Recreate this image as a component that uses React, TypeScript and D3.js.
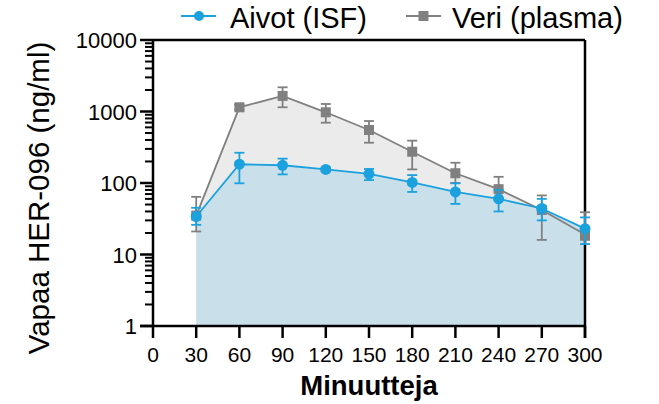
import React, { useEffect, useRef } from 'react';
import * as d3 from 'd3';

// minutes after dosing
const minutes = [30, 60, 90, 120, 150, 180, 210, 240, 270, 300];

// Aivot (ISF)
const aivot = [34, 183, 177, 155, 134, 102, 75, 60, 44, 23];
const aivotLo = [26, 99, 132, 145, 110, 75, 51, 40, 30, 14];
const aivotHi = [45, 265, 219, 166, 157, 129, 99, 80, 60, 33];

// Veri (plasma)
const veri = [35, 1145, 1650, 975, 551, 274, 137, 82, 42, 19];
const veriLo = [21, 1060, 1145, 697, 366, 155, 100, 58, 16, 16];
const veriHi = [64, 1240, 2180, 1274, 736, 391, 192, 122, 67, 39];

const xTicks = [0, 30, 60, 90, 120, 150, 180, 210, 240, 270, 300];
const yTicks = [1, 10, 100, 1000, 10000];

const BLUE = '#1ba1dd';
const GRAY = '#808080';
const FONT = '"Liberation Sans", Arial, sans-serif';

function App() {
  const svgRef = useRef(null);

  useEffect(() => {
    const svg = d3.select(svgRef.current);
    svg.selectAll('*').remove();

    const left = 153, right = 585, top = 40, bottom = 326;

    const x = d3.scaleLinear().domain([0, 300]).range([left, right]);
    const y = d3.scaleLog().domain([1, 10000]).range([bottom, top]);

    const rows = minutes.map((m, i) => ({
      m,
      a: aivot[i], aLo: aivotLo[i], aHi: aivotHi[i],
      v: veri[i], vLo: veriLo[i], vHi: veriHi[i],
    }));

    // filled areas down to 1
    const areaV = d3.area().x((d) => x(d.m)).y0(y(1)).y1((d) => y(d.v));
    const areaA = d3.area().x((d) => x(d.m)).y0(y(1)).y1((d) => y(d.a));
    svg.append('path').datum(rows).attr('d', areaV).attr('fill', '#ebebeb');
    svg.append('path').datum(rows).attr('d', areaA).attr('fill', '#c9e0ea');

    // axes
    const ax = svg.append('g').attr('stroke', '#000').attr('stroke-width', 2.5).attr('fill', 'none');
    ax.append('line').attr('x1', left).attr('x2', left).attr('y1', top).attr('y2', bottom);
    ax.append('line').attr('x1', left - 13).attr('x2', right).attr('y1', bottom).attr('y2', bottom);
    ax.append('line').attr('x1', left).attr('x2', right).attr('y1', top).attr('y2', top);
    ax.append('line').attr('x1', right).attr('x2', right).attr('y1', top).attr('y2', bottom + 12);

    xTicks.forEach((t) => {
      ax.append('line').attr('x1', x(t)).attr('x2', x(t)).attr('y1', bottom).attr('y2', bottom + 12);
    });
    yTicks.forEach((t) => {
      ax.append('line').attr('x1', left - 13).attr('x2', left).attr('y1', y(t)).attr('y2', y(t));
    });
    // minor ticks
    yTicks.slice(0, -1).forEach((t) => {
      d3.range(2, 10).forEach((k) => {
        ax.append('line')
          .attr('x1', left - 8).attr('x2', left)
          .attr('y1', y(t * k)).attr('y2', y(t * k))
          .attr('stroke-width', 2);
      });
    });

    svg.append('g').selectAll('text').data(xTicks).enter().append('text')
      .attr('x', (d) => x(d)).attr('y', 362)
      .attr('text-anchor', 'middle')
      .attr('font-family', FONT).attr('font-size', 21)
      .text((d) => d);

    svg.append('g').selectAll('text').data(yTicks).enter().append('text')
      .attr('x', 137).attr('y', (d) => y(d) + 8)
      .attr('text-anchor', 'end')
      .attr('font-family', FONT).attr('font-size', 22)
      .text((d) => d);

    svg.append('text')
      .attr('x', (left + right) / 2).attr('y', 395)
      .attr('text-anchor', 'middle')
      .attr('font-family', FONT).attr('font-size', 27.5).attr('font-weight', 'bold')
      .text('Minuutteja');

    svg.append('text')
      .attr('transform', 'translate(49,198) rotate(-90)')
      .attr('text-anchor', 'middle')
      .attr('font-family', FONT).attr('font-size', 29.5)
      .text('Vapaa HER-096 (ng/ml)');

    const drawSeries = (key, lo, hi, color, shape) => {
      const line = d3.line().x((d) => x(d.m)).y((d) => y(d[key]));
      svg.append('path').datum(rows).attr('d', line)
        .attr('fill', 'none').attr('stroke', color).attr('stroke-width', 1.8);

      const err = svg.append('g').attr('stroke', color).attr('stroke-width', 1.8);
      rows.forEach((d) => {
        const cx = x(d.m);
        err.append('line').attr('x1', cx).attr('x2', cx).attr('y1', y(d[lo])).attr('y2', y(d[hi]));
        err.append('line').attr('x1', cx - 5).attr('x2', cx + 5).attr('y1', y(d[lo])).attr('y2', y(d[lo]));
        err.append('line').attr('x1', cx - 5).attr('x2', cx + 5).attr('y1', y(d[hi])).attr('y2', y(d[hi]));
      });

      if (shape === 'circle') {
        svg.append('g').selectAll('circle').data(rows).enter().append('circle')
          .attr('cx', (d) => x(d.m)).attr('cy', (d) => y(d[key])).attr('r', 5.5)
          .attr('fill', color);
      } else {
        svg.append('g').selectAll('rect').data(rows).enter().append('rect')
          .attr('x', (d) => x(d.m) - 5).attr('y', (d) => y(d[key]) - 5)
          .attr('width', 10).attr('height', 10)
          .attr('fill', color);
      }
    };

    drawSeries('v', 'vLo', 'vHi', GRAY, 'square');
    drawSeries('a', 'aLo', 'aHi', BLUE, 'circle');

    // legend
    const lg = svg.append('g').attr('font-family', FONT).attr('font-size', 29);
    lg.append('line').attr('x1', 181).attr('x2', 216).attr('y1', 16).attr('y2', 16)
      .attr('stroke', BLUE).attr('stroke-width', 1.8);
    lg.append('circle').attr('cx', 199).attr('cy', 16).attr('r', 5).attr('fill', BLUE);
    lg.append('text').attr('x', 230).attr('y', 28).text('Aivot (ISF)');
    lg.append('line').attr('x1', 406).attr('x2', 441).attr('y1', 16).attr('y2', 16)
      .attr('stroke', GRAY).attr('stroke-width', 1.8);
    lg.append('rect').attr('x', 418.5).attr('y', 11).attr('width', 10).attr('height', 10).attr('fill', GRAY);
    lg.append('text').attr('x', 452).attr('y', 28).text('Veri (plasma)');
  }, []);

  return (
    <svg ref={svgRef} width="659" height="404"
      style={{ position: 'absolute', left: 0, top: 0, background: '#fff' }}></svg>
  );
}

export default App;
